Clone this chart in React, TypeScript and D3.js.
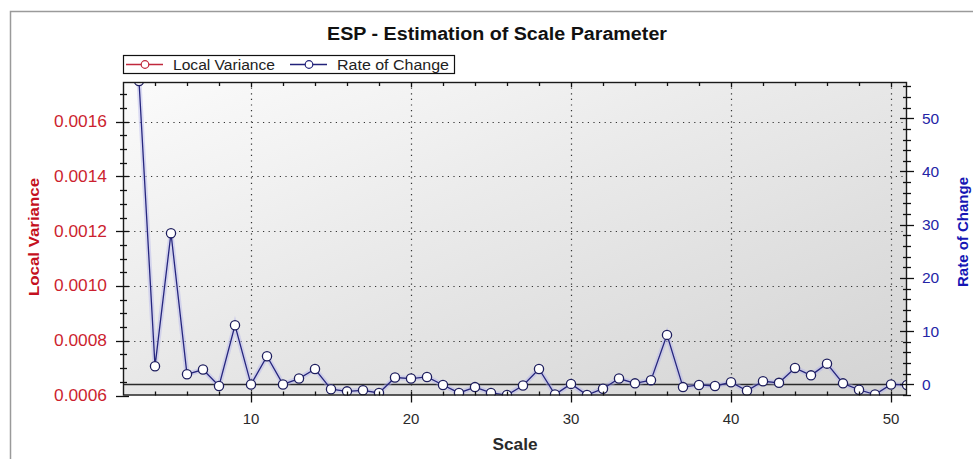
import { useEffect, useRef } from 'react';
import * as d3 from 'd3';

const SCALES = [3, 4, 5, 6, 7, 8, 9, 10, 11, 12, 13, 14, 15, 16, 17, 18, 19, 20, 21, 22, 23, 24, 25, 26, 27,
  28, 29, 30, 31, 32, 33, 34, 35, 36, 37, 38, 39, 40, 41, 42, 43, 44, 45, 46, 47, 48, 49, 50, 51];
const RATE_OF_CHANGE = [57, 3.4, 28.4, 1.9, 2.8, -0.3, 11.1, 0, 5.3, 0, 1.1, 2.9, -0.9, -1.3, -1.1, -1.6, 1.3,
  1.1, 1.4, -0.1, -1.6, -0.5, -1.6, -2.0, -0.2, 2.9, -1.9, 0.1, -2.0, -0.8, 1.1, 0.2, 0.8, 9.3, -0.5, -0.1,
  -0.3, 0.4, -1.2, 0.6, 0.3, 3.1, 1.7, 3.9, 0.2, -1.0, -1.9, 0, -0.1];
const X_TICKS = [10, 20, 30, 40, 50];
const LV_TICKS = [0.0006, 0.0008, 0.001, 0.0012, 0.0014, 0.0016];
const ROC_TICKS = [0, 10, 20, 30, 40, 50];
const LEGEND = [
  { label: 'Local Variance', color: '#c0283c', width: 102 },
  { label: 'Rate of Change', color: '#22227a', width: 112 },
];

const FONT = '"Liberation Sans", Arial, sans-serif';
const LV_COLOR = '#cc1f2f';
const ROC_COLOR = '#2424a6';

export default function App() {
  const svgRef = useRef<SVGSVGElement>(null);

  useEffect(() => {
    if (!svgRef.current) return;
    const W = 973, H = 459;
    const plot = { left: 123, top: 82, right: 907, bottom: 395.5 };
    const svg = d3.select(svgRef.current);
    svg.selectAll('*').remove();

    const x = d3.scaleLinear().domain([2, 51]).range([plot.left, plot.right]);
    const yL = d3.scaleLinear().domain([0.0006, 0.001745]).range([plot.bottom, plot.top]);
    const yR = d3.scaleLinear().domain([-2.08, 56.8]).range([plot.bottom, plot.top]);

    const defs = svg.append('defs');
    const grad = defs.append('linearGradient').attr('id', 'bg')
      .attr('x1', 0).attr('y1', 0).attr('x2', 1).attr('y2', 1);
    grad.append('stop').attr('offset', '0%').attr('stop-color', '#fbfbfb');
    grad.append('stop').attr('offset', '100%').attr('stop-color', '#d3d3d3');
    defs.append('clipPath').attr('id', 'plotClip')
      .append('rect')
      .attr('x', plot.left).attr('y', plot.top)
      .attr('width', plot.right - plot.left).attr('height', plot.bottom - plot.top);

    // page + outer frame
    svg.append('rect').attr('width', W).attr('height', H).attr('fill', '#ffffff');
    svg.append('path')
      .attr('d', `M10.5,${H} L10.5,11.5 L${W},11.5`)
      .attr('fill', 'none').attr('stroke', '#9a9a9a').attr('stroke-width', 1.5);

    // title
    svg.append('text')
      .attr('x', 497).attr('y', 40)
      .attr('text-anchor', 'middle')
      .attr('font-family', FONT).attr('font-weight', 'bold').attr('font-size', '18px')
      .attr('textLength', 340).attr('lengthAdjust', 'spacingAndGlyphs')
      .attr('fill', '#111')
      .text('ESP - Estimation of Scale Parameter');

    // plot background
    svg.append('rect')
      .attr('x', plot.left).attr('y', plot.top)
      .attr('width', plot.right - plot.left).attr('height', plot.bottom - plot.top)
      .attr('fill', 'url(#bg)');

    // grid
    const grid = svg.append('g').attr('stroke', '#333').attr('stroke-width', 1.2).attr('stroke-dasharray', '1.2,4.4');
    grid.selectAll('line.v').data(X_TICKS).join('line')
      .attr('x1', d => Math.round(x(d)) + 0.5).attr('x2', d => Math.round(x(d)) + 0.5)
      .attr('y1', plot.top).attr('y2', plot.bottom);
    grid.selectAll('line.h').data(LV_TICKS.filter(d => d > 0.0006)).join('line')
      .attr('x1', plot.left).attr('x2', plot.right)
      .attr('y1', d => Math.round(yL(d)) + 0.5).attr('y2', d => Math.round(yL(d)) + 0.5);

    // zero line of rate of change
    svg.append('line')
      .attr('x1', plot.left).attr('x2', plot.right)
      .attr('y1', Math.round(yR(0)) + 0.5).attr('y2', Math.round(yR(0)) + 0.5)
      .attr('stroke', '#2a2a2a').attr('stroke-width', 1.3);

    // series
    const line = d3.line<number>()
      .x((_, i) => x(SCALES[i]))
      .y(d => yR(d));
    const series = svg.append('g').attr('clip-path', 'url(#plotClip)');
    series.append('path').datum(RATE_OF_CHANGE)
      .attr('fill', 'none').attr('stroke', '#b4b4ec').attr('stroke-width', 5).attr('opacity', 0.45)
      .attr('d', line);
    series.append('path').datum(RATE_OF_CHANGE)
      .attr('fill', 'none').attr('stroke', '#26267e').attr('stroke-width', 1.3)
      .attr('d', line);
    series.selectAll('circle').data(RATE_OF_CHANGE).join('circle')
      .attr('cx', (_, i) => x(SCALES[i])).attr('cy', d => yR(d))
      .attr('r', 4.6)
      .attr('fill', '#ffffff').attr('stroke', '#1e1e5e').attr('stroke-width', 1.3);

    // frame
    svg.append('rect')
      .attr('x', plot.left + 0.5).attr('y', plot.top + 0.5)
      .attr('width', plot.right - plot.left - 1).attr('height', plot.bottom - plot.top - 1)
      .attr('fill', 'none').attr('stroke', '#1a1a1a').attr('stroke-width', 1.4);

    const ticks = svg.append('g').attr('stroke', '#111').attr('stroke-width', 1.3);
    // x ticks (bottom + top)
    const xMinor = d3.range(4, 51, 2);
    ticks.selectAll('line.xb').data(xMinor).join('line')
      .attr('x1', d => Math.round(x(d)) + 0.5).attr('x2', d => Math.round(x(d)) + 0.5)
      .attr('y1', plot.bottom - 4)
      .attr('y2', d => plot.bottom + (d % 10 === 0 ? 7 : 0));
    ticks.selectAll('line.xt').data(xMinor).join('line')
      .attr('x1', d => Math.round(x(d)) + 0.5).attr('x2', d => Math.round(x(d)) + 0.5)
      .attr('y1', plot.top).attr('y2', d => plot.top + (d % 10 === 0 ? 5 : 4));

    // left ticks
    const lvMinor = d3.range(0.0006, 0.00175, 0.00005);
    ticks.selectAll('line.yl').data(lvMinor).join('line')
      .attr('x1', (d, i) => plot.left - (i % 4 === 0 ? 7 : 3))
      .attr('x2', (d, i) => plot.left + (i % 4 === 0 ? 6 : 4))
      .attr('y1', d => Math.round(yL(d)) + 0.5).attr('y2', d => Math.round(yL(d)) + 0.5);

    // right ticks
    const rMinor = d3.range(-2, 57, 2);
    ticks.selectAll('line.yr').data(rMinor).join('line')
      .attr('x1', d => plot.right - (d % 10 === 0 ? 7 : 4))
      .attr('x2', d => plot.right + (d % 10 === 0 ? 7 : 4))
      .attr('y1', d => Math.round(yR(d)) + 0.5).attr('y2', d => Math.round(yR(d)) + 0.5);

    // tick labels
    svg.append('g').selectAll('text').data(X_TICKS).join('text')
      .attr('x', d => x(d)).attr('y', 424)
      .attr('text-anchor', 'middle')
      .attr('font-family', FONT).attr('font-size', '15px').attr('fill', '#2a2a2a')
      .text(d => d);
    svg.append('g').selectAll('text').data(LV_TICKS).join('text')
      .attr('x', 107).attr('y', d => yL(d) + 5.5)
      .attr('text-anchor', 'end')
      .attr('font-family', FONT).attr('font-size', '16px').attr('fill', LV_COLOR)
      .attr('textLength', 53).attr('lengthAdjust', 'spacingAndGlyphs')
      .text(d => d3.format('.4f')(d));
    svg.append('g').selectAll('text').data(ROC_TICKS).join('text')
      .attr('x', 922).attr('y', d => yR(d) + 5.5)
      .attr('text-anchor', 'start')
      .attr('font-family', FONT).attr('font-size', '15.5px').attr('fill', ROC_COLOR)
      .text(d => d);

    // axis titles
    svg.append('text')
      .attr('x', 515).attr('y', 450)
      .attr('text-anchor', 'middle')
      .attr('font-family', FONT).attr('font-weight', 'bold').attr('font-size', '16px').attr('fill', '#2a2a2a')
      .attr('textLength', 45).attr('lengthAdjust', 'spacingAndGlyphs')
      .text('Scale');
    svg.append('text')
      .attr('transform', `translate(39,237) rotate(-90)`)
      .attr('text-anchor', 'middle')
      .attr('font-family', FONT).attr('font-weight', 'bold').attr('font-size', '15.5px').attr('fill', '#c41020')
      .attr('textLength', 118).attr('lengthAdjust', 'spacingAndGlyphs')
      .text('Local Variance');
    svg.append('text')
      .attr('transform', `translate(968,232) rotate(-90)`)
      .attr('text-anchor', 'middle')
      .attr('font-family', FONT).attr('font-weight', 'bold').attr('font-size', '15.5px').attr('fill', '#1616b4')
      .attr('textLength', 110).attr('lengthAdjust', 'spacingAndGlyphs')
      .text('Rate of Change');

    // legend
    const lg = svg.append('g');
    lg.append('rect')
      .attr('x', 123.5).attr('y', 55.5).attr('width', 331).attr('height', 18)
      .attr('fill', '#ffffff').attr('stroke', '#111').attr('stroke-width', 1.2);
    const offsets = [126, 290];
    LEGEND.forEach((item, i) => {
      const x0 = offsets[i];
      lg.append('line')
        .attr('x1', x0).attr('x2', x0 + 37).attr('y1', 64.5).attr('y2', 64.5)
        .attr('stroke', item.color).attr('stroke-width', 1.3);
      lg.append('circle')
        .attr('cx', x0 + 19).attr('cy', 64.5).attr('r', 3.8)
        .attr('fill', '#fff').attr('stroke', item.color).attr('stroke-width', 1.2);
      lg.append('text')
        .attr('x', x0 + 47).attr('y', 69.5)
        .attr('font-family', FONT).attr('font-size', '14px').attr('fill', '#222')
        .attr('textLength', item.width).attr('lengthAdjust', 'spacingAndGlyphs')
        .text(item.label);
    });
  }, []);

  return (
    <svg
      ref={svgRef}
      width={973}
      height={459}
      style={{ position: 'absolute', left: 0, top: 0 }}
    />
  );
}
